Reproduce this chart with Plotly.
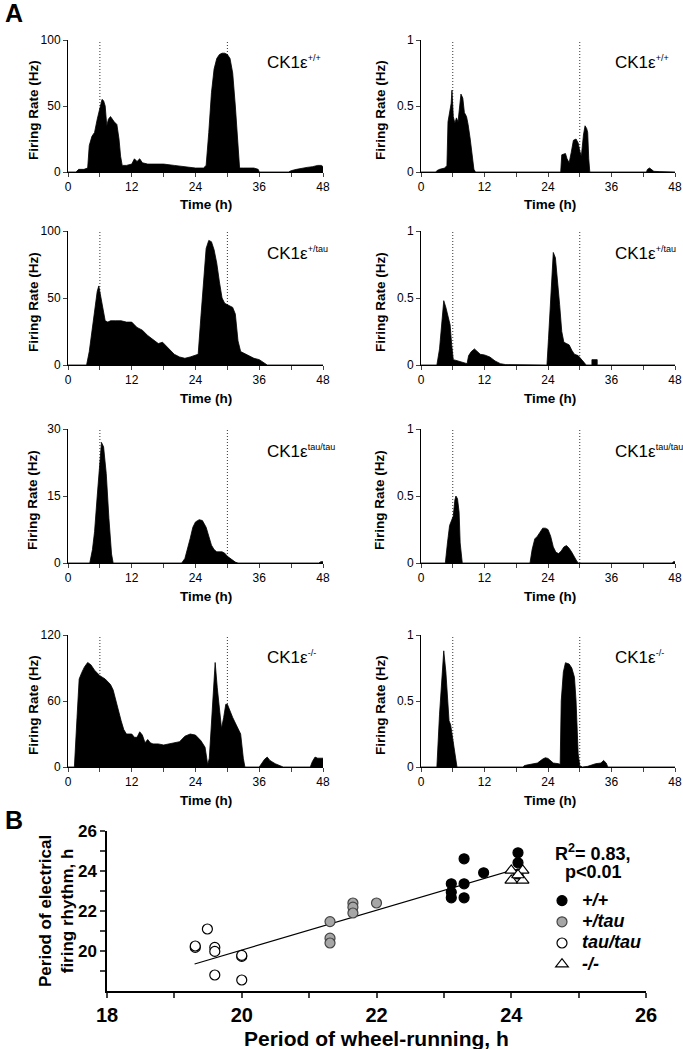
import plotly.graph_objects as go

FONT = "Liberation Sans, Arial, Helvetica, sans-serif"
W, H = 683, 1049

# ---------------- Panel A data (time in h, firing rate) ----------------
# CK1e +/+  (left, Hz 0-100)
t_wt_l = [0, 1.5, 2, 3, 3.7, 4, 4.5, 5, 5.5, 6, 6.4, 6.7, 7, 7.3, 7.6, 8, 8.3, 8.7, 9.2, 9.6,
          9.9, 10.2, 11, 12, 12.5, 13, 13.5, 14, 15, 16, 18, 20, 22, 24, 25.5, 26, 26.5, 27, 27.5, 28,
          28.5, 29, 29.5, 30, 30.5, 31, 31.5, 32, 32.3, 33, 34, 35, 35.8, 36, 41.5, 42, 43, 44, 45, 46,
          47, 47.7, 48]
fr_wt_l = [0, 0, 2, 2, 3, 20, 27, 30, 40, 48, 55, 54, 50, 35, 40, 42, 40, 38, 36, 25,
           12, 5, 5, 6, 10, 8, 10, 7, 6, 6, 6, 5, 4, 3, 3, 5, 30, 60, 78, 86,
           89, 90, 90, 89, 86, 75, 50, 15, 3, 3, 3, 3, 2, 0, 0, 1, 2, 3, 3.5, 4,
           5, 5, 4]
# CK1e +/+  (right, Hz 0-1)
t_wt_r = [0, 2.8, 3, 3.5, 4.5, 4.9, 5.1, 5.4, 5.7, 5.85, 6.1, 6.4, 6.7, 7, 7.3, 7.55, 7.9, 8.2, 8.6, 8.9,
          9.3, 9.7, 10, 10.3, 26.4, 26.6, 27.3, 27.6, 28, 28.4, 28.8, 29.3, 29.7, 30, 30.3, 30.7, 31, 31.3, 31.5, 31.7,
          31.9, 42.6, 42.8, 43.2, 43.6, 44, 45, 46, 46.5, 48]
fr_wt_r = [0, 0, 0.01, 0.02, 0.03, 0.05, 0.38, 0.45, 0.52, 0.62, 0.42, 0.37, 0.41, 0.38, 0.5, 0.59, 0.56, 0.45, 0.42, 0.36,
           0.25, 0.1, 0.02, 0, 0, 0.13, 0.14, 0.1, 0.07, 0.15, 0.24, 0.25, 0.22, 0.16, 0.12, 0.28, 0.35, 0.33, 0.3, 0.1,
           0, 0, 0.02, 0.03, 0.02, 0.005, 0.003, 0.003, 0, 0]
# CK1e +/tau (left, Hz 0-100)
t_ht_l = [0, 3.5, 4, 4.5, 5, 5.5, 5.8, 6.1, 6.5, 7, 7.5, 8, 9, 10, 11, 12, 12.5, 13, 14, 15,
          16, 17, 17.8, 18.5, 19, 20, 21, 22, 23, 24, 24.5, 25, 25.5, 26, 26.5, 27, 27.5, 28, 28.5, 29,
          29.5, 30, 31, 31.5, 32, 32.5, 33, 34, 35, 36, 37, 37.5, 48]
fr_ht_l = [0, 0, 10, 25, 40, 55, 59, 52, 42, 33, 32, 33, 33, 33, 32, 32, 30, 28, 26, 22,
           19, 16, 17, 14, 12, 8, 6, 5, 6, 7, 8, 35, 65, 87, 93, 92, 86, 76, 62, 50,
           46, 45, 43, 38, 18, 10, 9, 7, 5, 4, 1, 0, 0]
# CK1e +/tau (right, Hz 0-1)
t_ht_r = [0, 3, 3.5, 4, 4.3, 4.7, 5, 5.5, 5.8, 6.1, 7, 8, 8.7, 9, 9.5, 10.1, 10.6, 11.2, 12, 13,
          14, 15, 16, 17.5, 18, 23.8, 24.1, 24.6, 25, 25.4, 25.8, 26.2, 26.6, 27, 27.5, 28, 28.5, 29, 29.7, 30.2,
          30.8, 31.2, 32.3, 32.3, 33.3, 33.3, 48]
fr_ht_r = [0, 0, 0.12, 0.38, 0.48, 0.43, 0.38, 0.3, 0.15, 0.04, 0.03, 0.02, 0.01, 0.07, 0.1, 0.12, 0.1, 0.08, 0.075, 0.06,
           0.03, 0.01, 0.003, 0.003, 0, 0, 0.2, 0.6, 0.84, 0.8, 0.65, 0.45, 0.25, 0.17, 0.16, 0.15, 0.11, 0.08, 0.07, 0.05,
           0.02, 0, 0, 0.04, 0.04, 0, 0]
# CK1e tau/tau (left, Hz 0-30)
t_tt_l = [0, 4.1, 4.6, 5, 5.5, 6, 6.3, 6.7, 7.2, 7.7, 8.2, 8.5, 21.4, 22, 22.5, 23, 23.5, 24, 24.7, 25.3,
          26, 26.5, 27, 27.5, 28, 29, 29.5, 30, 31, 31.5, 32, 47.2, 47.6, 48]
fr_tt_l = [0, 0, 3, 7, 15, 24, 27, 26, 20, 10, 2, 0, 0, 1, 3, 5.5, 8, 9.2, 9.7, 9.5,
           8, 6, 4, 3, 2.5, 2.5, 2.2, 1.5, 0.5, 0.2, 0, 0, 0.3, 0.3]
# CK1e tau/tau (right, Hz 0-1)
t_tt_r = [0, 4.6, 5, 5.4, 5.8, 6.1, 6.4, 6.6, 6.9, 7.2, 7.4, 7.8, 20.6, 21, 21.5, 22, 22.5, 23, 23.5, 24,
          24.5, 25, 25.5, 26, 26.5, 27, 27.5, 28, 28.5, 29, 29.5, 29.8, 47.5, 47.7, 48]
fr_tt_r = [0, 0, 0.15, 0.28, 0.32, 0.35, 0.47, 0.5, 0.48, 0.38, 0.15, 0, 0, 0.1, 0.18, 0.2, 0.23, 0.26, 0.26, 0.25,
           0.2, 0.12, 0.08, 0.07, 0.09, 0.12, 0.13, 0.11, 0.08, 0.04, 0.01, 0, 0, 0.01, 0.01]
# CK1e -/- (left, Hz 0-120)
t_ko_l = [0, 1.2, 1.7, 2.1, 2.6, 3.1, 3.7, 4.3, 5, 6, 7, 8, 8.5, 9, 9.5, 10, 10.5, 11, 12, 12.5,
          13, 13.5, 14, 14.5, 15, 15.5, 16, 17, 18, 19, 20, 21, 22, 23, 24, 25, 25.8, 26.3, 26.6, 27,
          27.4, 27.7, 28.1, 28.5, 28.9, 29.3, 29.7, 30, 30.5, 31, 31.5, 32, 32.5, 33, 33.3, 36, 36.5, 37, 37.5, 38,
          39, 40, 40.5, 45.6, 46, 46.5, 47, 48]
fr_ko_l = [0, 0, 45, 80, 86, 91, 95, 93, 88, 83, 80, 75, 70, 60, 52, 42, 34, 30, 30, 27,
           27, 32, 29, 22, 25, 22, 21, 21, 20, 21, 22, 23, 28, 30, 29, 24, 18, 2, 8, 40,
           75, 95, 72, 50, 35, 45, 57, 57, 50, 45, 40, 35, 30, 8, 0, 0, 4, 7, 9, 6,
           3, 1, 0, 0, 5, 9, 8, 8]
# CK1e -/- (right, Hz 0-1)
t_ko_r = [0, 3, 3.5, 4, 4.3, 4.7, 5, 5.3, 5.6, 6, 6.5, 6.8, 19.3, 19.5, 20, 21, 22, 23, 23.5, 24,
          24.5, 25, 26, 26.3, 26.5, 26.9, 27.3, 28, 28.5, 29, 29.3, 29.7, 30, 30.5, 31.5, 32.5, 33, 34, 34.5, 35,
          35.3, 48]
fr_ko_r = [0, 0, 0.4, 0.75, 0.88, 0.72, 0.5, 0.35, 0.32, 0.2, 0.05, 0, 0, 0.01, 0.015, 0.02, 0.03, 0.06, 0.07, 0.065,
           0.05, 0.03, 0.025, 0.02, 0.5, 0.72, 0.79, 0.78, 0.75, 0.68, 0.5, 0.1, 0.01, 0, 0.005, 0.02, 0.025, 0.03, 0.05, 0.03,
           0, 0]

genotype_sups = ["+/+", "+/tau", "tau/tau", "-/-"]
left_ymax = [100, 100, 30, 120]
right_ymax = [1, 1, 1, 1]
x_ticks_a = [0, 12, 24, 36, 48]
x_minor_a = [6, 18, 30, 42]
marker_times = [6, 30]

# ---------------- Panel B data ----------------
wr_wt = [23.11, 23.11, 23.11, 23.3, 23.3, 23.3, 23.59, 24.1, 24.1, 24.1]
ef_wt = [23.36, 22.94, 22.66, 24.61, 23.36, 22.66, 23.91, 24.91, 24.41, 23.85]
wr_ht = [21.31, 21.31, 21.31, 21.65, 21.65, 21.65, 22.0]
ef_ht = [21.47, 20.64, 20.4, 22.4, 22.19, 21.9, 22.4]
wr_tt = [19.31, 19.31, 19.49, 19.6, 19.6, 19.6, 20.0, 20.0, 20.0]
ef_tt = [20.18, 20.25, 21.1, 20.18, 19.98, 18.8, 19.73, 19.78, 18.55]
wr_ko = [24.0, 24.0, 24.17, 24.17, 24.1]
ef_ko = [24.03, 23.53, 24.03, 23.53, 23.8]
fit_wr = [19.3, 24.0]
fit_ef = [19.35, 24.03]

panel_data = [
    (t_wt_l, fr_wt_l), (t_wt_r, fr_wt_r),
    (t_ht_l, fr_ht_l), (t_ht_r, fr_ht_r),
    (t_tt_l, fr_tt_l), (t_tt_r, fr_tt_r),
    (t_ko_l, fr_ko_l), (t_ko_r, fr_ko_r),
]
for t, f in panel_data:
    assert len(t) == len(f), (len(t), len(f))

# ---------------- layout geometry (pixels) ----------------
col_px = [(68, 323), (421, 675)]
row_px = [(40, 172), (231, 365), (429, 563), (635, 767)]
label_x = [37, 36.3]


def px_x(p):
    return p / W


def px_y(p):
    return 1 - p / H


fig = go.Figure()
layout = dict(
    width=W, height=H, autosize=False,
    margin=dict(l=0, r=0, t=0, b=0, pad=0, autoexpand=False),
    paper_bgcolor="white", plot_bgcolor="white",
    font=dict(family=FONT, color="black"),
    showlegend=True,
)
annotations = []
shapes = []

for r in range(4):
    for c in range(2):
        i = r * 2 + c + 1
        t, f = panel_data[i - 1]
        xa = "x" if i == 1 else f"x{i}"
        ya = "y" if i == 1 else f"y{i}"
        fig.add_trace(go.Scatter(
            x=t, y=f, mode="lines", fill="tozeroy",
            line=dict(color="black", width=0.8), fillcolor="black",
            xaxis=xa, yaxis=ya, showlegend=False, hoverinfo="skip"))
        ymax = left_ymax[r] if c == 0 else right_ymax[r]
        yt = [0, ymax / 2, ymax]
        ytt = [("%g" % v) for v in yt]
        x0, x1 = col_px[c]
        y0, y1 = row_px[r]
        key = "" if i == 1 else str(i)
        layout["xaxis" + key] = dict(
            domain=[px_x(x0), px_x(x1)], anchor=ya, range=[0, 48], automargin=False,
            tickmode="array", tickvals=x_ticks_a, ticks="outside", ticklen=4,
            minor=dict(tickmode="array", tickvals=x_minor_a, ticks="outside", ticklen=4),
            showline=True, linecolor="black", linewidth=1, showgrid=False, zeroline=False,
            tickfont=dict(size=12, family=FONT), fixedrange=True)
        layout["yaxis" + key] = dict(
            domain=[px_y(y1), px_y(y0)], anchor=xa, range=[0, ymax], automargin=False,
            tickmode="array", tickvals=yt, ticktext=ytt, ticks="outside", ticklen=4,
            showline=True, linecolor="black", linewidth=1, showgrid=False, zeroline=False,
            tickfont=dict(size=12, family=FONT), fixedrange=True)
        for mt in marker_times:
            shapes.append(dict(type="line", xref=xa, yref=ya, x0=mt, x1=mt, y0=0, y1=ymax,
                               line=dict(color="#333333", width=1, dash="1px,2px"), layer="below"))
        # genotype label
        annotations.append(dict(
            xref=xa, yref=ya + " domain", x=label_x[c], y=0.83, xanchor="left", yanchor="middle",
            text="CK1ε<sup><span style='font-size:9px'>" + genotype_sups[r] + "</span></sup>",
            showarrow=False, font=dict(size=17, family=FONT)))
        # y title
        annotations.append(dict(
            xref="paper", yref="paper", x=px_x(33 if c == 0 else 380), y=px_y((y0 + y1) / 2 + 4),
            xanchor="center", yanchor="middle", textangle=-90, showarrow=False,
            text="<b>Firing Rate (Hz)</b>", font=dict(size=13.5, family=FONT)))
        # x title
        annotations.append(dict(
            xref="paper", yref="paper", x=px_x(206 if c == 0 else 550), y=px_y(y1 + 33),
            xanchor="center", yanchor="middle", showarrow=False,
            text="<b>Time (h)</b>", font=dict(size=13.5, family=FONT)))

# ---------------- Panel B ----------------
fig.add_trace(go.Scatter(x=fit_wr, y=fit_ef, mode="lines", line=dict(color="black", width=1.2),
                         xaxis="x9", yaxis="y9", showlegend=False, hoverinfo="skip"))
series = [
    ("+/+", wr_wt, ef_wt, "circle", "black", "black"),
    ("+/tau", wr_ht, ef_ht, "circle", "#a6a6a6", "#444444"),
    ("tau/tau", wr_tt, ef_tt, "circle", "white", "black"),
    ("-/-", wr_ko, ef_ko, "triangle-up", "white", "black"),
]
for name, xs, ys, sym, fc, lc in series:
    fig.add_trace(go.Scatter(
        x=xs, y=ys, mode="markers", xaxis="x9", yaxis="y9",
        name='<span style="font-size:18px"><b><i>' + name + '</i></b></span>',
        marker=dict(symbol=sym, size=10 if sym == "circle" else 11, color=fc,
                    line=dict(color=lc, width=1.2)),
        hoverinfo="skip"))

layout["xaxis9"] = dict(
    domain=[px_x(107), px_x(646)], anchor="y9", range=[18, 26], automargin=False,
    tickmode="array", tickvals=[18, 20, 22, 24, 26], ticks="outside", ticklen=5, tickwidth=1.5,
    minor=dict(tickmode="array", tickvals=[19, 21, 23, 25], ticks="outside", ticklen=5, tickwidth=1.5),
    showline=True, linecolor="black", linewidth=1.5, showgrid=False, zeroline=False,
    tickfont=dict(size=20, family=FONT, weight="bold"), fixedrange=True)
layout["yaxis9"] = dict(
    domain=[px_y(991), px_y(831)], anchor="x9", range=[18, 26], automargin=False,
    tickmode="array", tickvals=[20, 22, 24, 26], ticks="outside", ticklen=5, tickwidth=1.5,
    minor=dict(tickmode="array", tickvals=[19, 21, 23, 25], ticks="outside", ticklen=5, tickwidth=1.5),
    showline=True, linecolor="black", linewidth=1.5, showgrid=False, zeroline=False,
    tickfont=dict(size=17, family=FONT, weight="bold"), fixedrange=True)

layout["legend"] = dict(
    x=px_x(542), y=px_y(885), xanchor="left", yanchor="top",
    bgcolor="rgba(0,0,0,0)", borderwidth=0, font=dict(size=14, family=FONT),
    itemclick=False, itemdoubleclick=False)

annotations += [
    dict(xref="paper", yref="paper", x=px_x(593), y=px_y(852), xanchor="center", yanchor="middle",
         text="<b>R<sup>2</sup>= 0.83,</b>", showarrow=False, font=dict(size=18, family=FONT)),
    dict(xref="paper", yref="paper", x=px_x(593), y=px_y(872), xanchor="center", yanchor="middle",
         text="<b>p&lt;0.01</b>", showarrow=False, font=dict(size=18, family=FONT)),
    dict(xref="paper", yref="paper", x=px_x(56), y=px_y(911), xanchor="center", yanchor="middle",
         textangle=-90, text="<b>Period of electrical<br>firing rhythm, h</b>", showarrow=False,
         font=dict(size=17, family=FONT)),
    dict(xref="paper", yref="paper", x=px_x(376), y=px_y(1038), xanchor="center", yanchor="middle",
         text="<b>Period of wheel-running, h</b>", showarrow=False, font=dict(size=21, family=FONT)),
    dict(xref="paper", yref="paper", x=px_x(3), y=px_y(13), xanchor="left", yanchor="middle",
         text="<b>A</b>", showarrow=False, font=dict(size=25, family=FONT)),
    dict(xref="paper", yref="paper", x=px_x(3), y=px_y(820), xanchor="left", yanchor="middle",
         text="<b>B</b>", showarrow=False, font=dict(size=25, family=FONT)),
]

layout["annotations"] = annotations
layout["shapes"] = shapes
fig.update_layout(**layout)
fig.write_html(
    "out.html", config={"responsive": False, "displayModeBar": False},
    post_script="document.body.style.margin='0';document.body.style.overflow='hidden';")
